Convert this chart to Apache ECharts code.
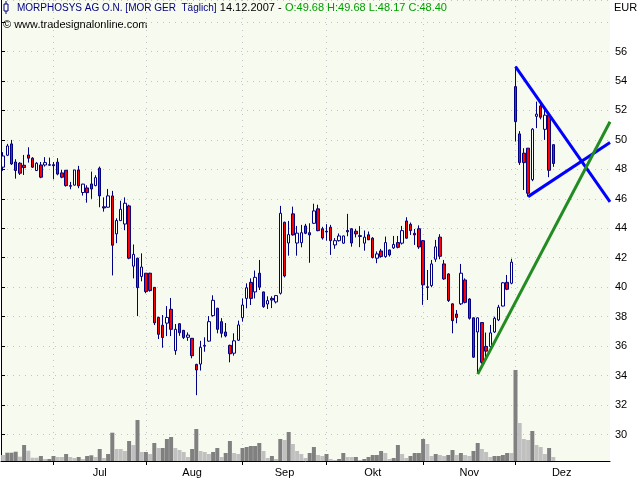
<!DOCTYPE html>
<html><head><meta charset="utf-8">
<script src="https://cdn.jsdelivr.net/npm/echarts@6/dist/echarts.min.js"></script>
<style>html,body{margin:0;padding:0;background:#fff}#c{width:640px;height:480px}</style>
</head><body><div id="c"></div>
<script>
// ---- price data (daily candles, 14.06.2007 .. 14.12.2007) ----
const opens = [48.15,48.96,49.73,48.50,48.42,48.28,48.98,48.76,47.92,48.30,48.30,48.28,48.32,48.49,47.76,47.94,46.85,46.93,47.96,46.43,46.74,47.01,46.90,48.08,45.46,45.43,46.20,43.62,44.52,44.29,45.52,41.43,41.97,40.73,40.95,40.95,39.99,37.95,37.42,37.56,38.50,35.69,37.52,37.07,36.60,36.53,34.76,34.78,36.00,36.34,38.07,38.57,37.66,36.96,36.05,35.52,36.40,37.93,39.24,40.33,39.68,40.95,39.68,38.86,39.24,39.00,39.59,44.41,43.00,44.98,43.00,43.02,44.16,43.70,44.34,45.32,43.97,43.80,44.07,42.87,43.16,42.99,43.85,43.97,43.80,43.50,42.99,43.56,43.33,41.97,42.46,42.08,42.53,42.67,43.03,42.99,44.50,44.27,43.66,43.97,43.16,40.03,40.11,41.90,43.40,41.58,40.90,38.87,38.18,38.87,40.49,39.20,37.92,36.96,37.60,35.98,35.97,36.96,37.78,38.72,40.33,40.27,53.62,50.41,49.10,49.44,47.30,51.60,52.31,50.72,51.68,49.68];
const closes = [48.91,49.59,48.37,47.92,47.74,48.12,48.76,48.15,48.42,47.47,48.46,48.32,48.25,47.68,47.47,46.90,46.90,47.96,46.88,47.00,46.42,46.67,47.44,46.20,45.38,46.20,42.85,44.53,45.29,45.70,41.97,42.23,39.97,41.37,39.70,39.77,37.58,36.80,36.58,37.95,37.14,37.14,36.91,36.58,36.75,35.35,34.38,35.92,36.05,37.66,39.11,37.14,36.87,36.69,35.48,36.36,37.44,38.79,39.96,39.24,40.67,40.00,38.68,39.09,39.13,39.43,45.02,40.76,43.57,43.55,43.67,43.70,43.66,43.55,45.18,43.84,43.34,43.75,43.16,43.16,43.48,43.48,43.76,43.00,43.62,43.45,43.40,43.22,42.02,42.26,42.08,43.03,42.19,42.90,42.71,43.84,43.33,43.84,43.55,42.73,40.16,39.98,41.58,42.74,42.10,40.56,39.09,37.73,37.95,40.95,38.97,37.89,35.25,37.92,34.90,35.66,36.90,37.89,38.64,40.30,39.86,41.70,51.24,48.46,48.46,46.38,50.73,51.75,51.54,51.68,47.94,48.40];
const lows = [47.90,48.90,48.30,47.37,47.62,47.62,48.46,48.10,47.90,47.40,48.19,48.25,47.33,47.60,47.40,46.83,46.65,46.90,46.72,46.22,45.74,46.00,46.85,45.43,45.13,45.40,40.80,42.99,44.50,43.87,41.90,40.60,38.04,40.40,39.59,39.70,37.43,36.48,35.89,36.68,36.68,35.41,36.70,36.48,36.36,35.17,32.67,34.34,35.62,36.30,38.00,36.87,36.58,36.60,34.90,35.35,36.35,37.66,38.57,38.79,39.24,39.81,38.60,38.52,38.58,38.90,39.50,40.67,42.14,43.50,42.14,42.71,43.60,41.66,44.30,43.80,43.23,43.16,42.19,42.61,43.10,42.95,43.46,42.75,43.38,42.72,42.48,43.20,41.95,41.63,42.00,42.00,42.08,42.60,42.64,42.90,43.30,43.55,42.87,42.60,38.80,39.13,40.00,41.72,41.90,40.50,39.00,36.87,37.55,38.79,38.90,37.80,35.20,34.16,34.80,35.25,35.74,36.90,37.70,38.70,39.80,40.20,49.89,48.30,46.60,46.15,47.20,50.80,51.40,50.00,47.47,48.17];
const highs = [49.17,49.73,50.00,48.69,48.49,48.98,49.50,48.83,48.49,48.50,48.83,48.80,48.50,48.76,47.96,47.95,47.15,47.96,48.24,47.02,46.92,47.85,47.60,48.19,46.10,46.67,46.54,44.68,45.87,46.10,45.60,42.90,42.00,42.30,40.95,40.98,40.00,38.00,38.11,38.72,39.27,37.50,37.55,37.10,36.93,36.55,34.80,36.36,36.60,38.04,39.45,38.60,37.90,37.57,36.10,36.87,37.73,39.24,40.26,40.60,41.13,41.85,39.70,39.38,39.38,39.45,45.52,44.45,44.50,45.47,44.16,44.23,44.30,44.34,45.67,45.60,44.10,44.28,44.23,43.33,43.65,43.50,44.98,44.00,43.95,44.15,43.85,43.78,43.40,42.43,42.60,43.44,42.55,43.48,43.48,44.16,44.75,44.39,43.95,44.20,43.20,41.17,41.85,43.21,43.60,41.85,40.95,38.90,38.45,41.58,40.60,39.25,37.95,37.95,37.60,36.92,37.44,38.00,38.80,40.35,40.83,41.93,54.98,50.60,49.44,49.44,50.80,52.60,52.60,52.27,51.90,49.68];
// volume (hundreds of shares) and volume direction (1 = dark/up, 0 = light/down)
const volumes = [60,83,83,93,43,160,103,33,33,50,20,20,50,40,40,70,40,30,40,20,50,57,40,120,30,70,283,120,120,100,200,160,410,90,90,70,180,130,130,220,240,130,110,90,40,120,320,100,90,70,90,130,40,80,200,80,70,130,140,150,150,180,100,30,50,20,220,210,290,170,100,70,30,80,140,60,50,70,20,10,20,80,40,40,40,10,20,40,60,60,100,80,20,30,160,70,30,50,80,80,220,170,50,70,60,50,60,110,60,80,60,50,100,180,120,90,40,50,50,60,80,80,910,380,220,210,300,160,140,70,130,40];
const volumeUp = [0,1,1,1,0,1,0,0,0,1,0,1,1,0,0,1,0,0,1,0,1,1,0,1,0,1,1,0,0,0,1,0,1,0,1,0,1,0,1,1,1,0,0,0,0,1,1,0,0,0,1,1,0,1,1,0,0,1,1,1,1,1,0,0,1,0,1,0,1,0,0,0,0,1,1,0,0,1,0,0,1,1,0,0,1,0,1,1,1,1,1,0,0,1,1,0,0,1,1,1,1,0,0,1,0,0,1,1,0,1,0,0,1,1,0,0,0,1,1,1,1,0,1,0,0,0,1,0,0,0,1,0];
// trend lines: [slot position, price]
const trendDown = [[122.5,54.98],[145,45.80]];
const trendUpper = [[125.5,46.15],[145,49.82]];
const trendGreen = [[113.5,34.10],[145,51.23]];
const trendLabels = [
  {pos:[131.4,51.63], text:'51.25', color:'#0000ff'},
  {pos:[131.0,46.88], text:'47.34', color:'#0000ff'},
  {pos:[131.4,43.48], text:'44', color:'#1f8f1f'}
];
const monthNames = {6:'Jul',7:'Aug',8:'Sep',9:'Okt',10:'Nov',11:'Dez'};
const totalSlots = 145;

// ---- calendar slots (weekdays) ----
const dates = [];
{ const d = new Date(Date.UTC(2007,5,14));
  while (dates.length < totalSlots) {
    const wd = d.getUTCDay();
    if (wd !== 0 && wd !== 6) dates.push(d.toISOString().slice(0,10));
    d.setUTCDate(d.getUTCDate()+1);
  } }
const monthOf = s => parseInt(s.slice(5,7),10)-1;
const firstIdx = [];
for (let i=1;i<dates.length;i++) if (monthOf(dates[i])!==monthOf(dates[i-1]) && monthNames[monthOf(dates[i])] && dates[i].startsWith('2007')) firstIdx.push(i);
const tickSet = new Set(firstIdx);
const labelMap = {};
for (let k=0;k<firstIdx.length;k++){
  const a = firstIdx[k], b = k+1<firstIdx.length?firstIdx[k+1]:totalSlots;
  labelMap[Math.floor((a+b)/2)] = monthNames[monthOf(dates[a])];
}

const candleData = opens.map((o,i)=>[o,closes[i],lows[i],highs[i]]);
const volData = volumes.map((v,i)=>({value:v,itemStyle:{color: volumeUp[i]?'#808080':'#c0c0c0'}}));

const FONT = 'Liberation Sans';
const chart = echarts.init(document.getElementById('c'), null, {renderer:'canvas'});
chart.setOption({
  animation:false,
  backgroundColor:'#ffffff',
  textStyle:{fontFamily:FONT},
  grid:{left:1,right:30,top:0,bottom:19,show:true,backgroundColor:'#f7faef',borderWidth:0},
  xAxis:[{
    type:'category', data:dates, boundaryGap:true,
    axisLine:{lineStyle:{color:'#000',width:1}},
    axisTick:{show:true,alignWithLabel:true,length:4,interval:(i)=>tickSet.has(i),lineStyle:{color:'#000'}},
    axisLabel:{interval:(i)=>labelMap[i]!==undefined, formatter:(v,i)=>labelMap[i]||'', color:'#000', fontSize:11, margin:6, fontFamily:FONT},
    splitLine:{show:true,alignWithLabel:true,interval:(i)=>tickSet.has(i),lineStyle:{color:'#c4c4c4',type:[1,5],width:1}}
  },{
    type:'value', min:0, max:totalSlots, show:false
  }],
  yAxis:[{
    type:'value', position:'right', min:28.2, max:59.5, splitNumber:15, scale:true,
    axisLine:{show:true,lineStyle:{color:'#000',width:1}},
    axisTick:{show:true,length:4,lineStyle:{color:'#000'}},
    axisLabel:{color:'#000',fontSize:11,margin:5,showMinLabel:false,showMaxLabel:false,fontFamily:FONT,
      formatter:(v)=> (v>57 ? '' : String(v))},
    splitLine:{show:true,lineStyle:{color:'#c4c4c4',type:[1,5],width:1}}
  },{
    type:'value', position:'left', min:0, max:4610,
    axisLine:{show:true,lineStyle:{color:'#000',width:1}},
    axisTick:{show:false}, axisLabel:{show:false}, splitLine:{show:false}
  }],
  series:[
    {type:'bar', xAxisIndex:0, yAxisIndex:1, data:volData, barWidth:4, z:1, silent:true},
    {type:'candlestick', xAxisIndex:0, yAxisIndex:0, data:candleData, barWidth:3, z:3,
      itemStyle:{color:'#ffffff',color0:'#ff0000',borderColor:'#000080',borderColor0:'#000080',borderWidth:1}},
    {type:'line', xAxisIndex:1, yAxisIndex:0, data:trendDown, symbol:'none', z:4, lineStyle:{color:'#0000ff',width:3}},
    {type:'line', xAxisIndex:1, yAxisIndex:0, data:trendUpper, symbol:'none', z:4, lineStyle:{color:'#0000ff',width:3}},
    {type:'line', xAxisIndex:1, yAxisIndex:0, data:trendGreen, symbol:'none', z:4, lineStyle:{color:'#228b22',width:3}},
    {type:'scatter', xAxisIndex:1, yAxisIndex:0, symbolSize:1, z:5, itemStyle:{opacity:0},
      data:trendLabels.map(t=>({value:t.pos, label:{show:true,position:'right',distance:0,formatter:t.text,color:t.color,fontSize:11,fontFamily:FONT}}))}
  ],
  graphic:[
    {type:'line', shape:{x1:6,y1:1,x2:6,y2:14}, style:{stroke:'#000080',lineWidth:1}},
    {type:'rect', shape:{x:4,y:4,width:4,height:7}, style:{fill:'#fff',stroke:'#000080',lineWidth:1}},
    {type:'text', left:17, top:2, style:{
      text:'{a|MORPHOSYS AG O.N. [MOR GER  Täglich]} {b|14.12.2007 -} {c|O:49.68 H:49.68 L:48.17 C:48.40}',
      rich:{a:{fill:'#000080',fontSize:10,fontFamily:FONT}, b:{fill:'#000',fontSize:11,fontFamily:FONT}, c:{fill:'#00a000',fontSize:11,fontFamily:FONT}}
    }},
    {type:'text', left:3, top:19, style:{text:'© www.tradesignalonline.com', fill:'#000', fontSize:11, fontFamily:FONT}},
    {type:'text', left:614, top:2, style:{text:'EUR', fill:'#000', fontSize:11, fontFamily:FONT}}
  ]
});
</script></body></html>
